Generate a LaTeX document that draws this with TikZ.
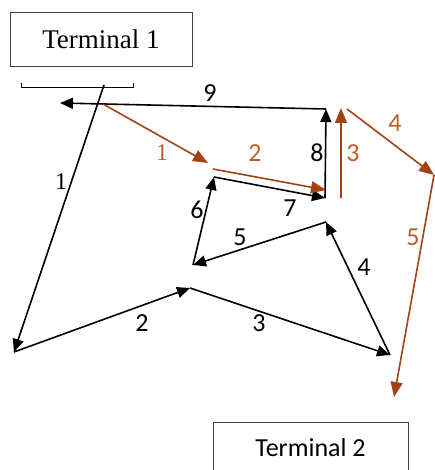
\documentclass[tikz,border=0pt]{standalone}
\usepackage{fontspec}
\setmainfont{Liberation Serif}
\newfontfamily\calib{Carlito}
\usetikzlibrary{arrows.meta}
\definecolor{brun}{RGB}{163,66,22}
\definecolor{brunlbl}{RGB}{186,94,46}
\tikzstyle{terminal}=[
	rectangle,
	draw=black!75,
	line width=0.9pt,
	minimum width=182,
	minimum height=54,
	font=\fontsize{27}{30}\selectfont]
\tikzstyle{ruta}=[
	draw=black,
	line width=1.6pt,
	-{Triangle[length=13pt,width=11pt]}]
\tikzstyle{rutab}=[
	ruta,
	draw=brun,
	-{Triangle[length=15pt,width=12pt]}]
\tikzstyle{num}=[
	inner sep=0pt,
	font=\calib\fontsize{26}{30}\selectfont]
\tikzstyle{numser}=[
	num,
	font=\fontsize{24}{28}\selectfont]

\begin{document}
\begin{tikzpicture}[x=1pt,y=-1pt]
	\path[use as bounding box,clip] (0,0) rectangle (435,470);
	% terminales
	\node[terminal] (term1) at (101,39) {Terminal 1};
	\node[terminal,font=\calib\fontsize{26}{30}\selectfont,minimum width=195,minimum height=52] (term2) at (310.5,448) {Terminal 2};
	\coordinate (brL) at (21,83);
	\coordinate (brR) at (133,83);
	\draw[line width=1pt] (brL) |- (brR |- 0,88) -- (brR);
	% puntos de la ruta negra
	\coordinate (a) at (104,85);
	\coordinate (b) at (14,352);
	\coordinate (c) at (190,288);
	\coordinate (d) at (390,355);
	\coordinate (e) at (326,222);
	\coordinate (f) at (193,265);
	\coordinate (g) at (214,177);
	\coordinate (h) at (325,198);
	\coordinate (i) at (326,109);
	\coordinate (j) at (60,103);
	% puntos de la ruta marron
	\coordinate (p1) at (103,104);
	\coordinate (p2) at (208,163);
	\coordinate (q1) at (213,169);
	\coordinate (q2) at (326,190);
	\coordinate (r1) at (341,198);
	\coordinate (r2) at (341,108);
	\coordinate (s1) at (347,109);
	\coordinate (s2) at (434,175);
	\coordinate (u) at (394,397);
	\draw[ruta] (a) -- (b);
	\draw[ruta] (b) -- (c);
	\draw[ruta] (c) -- (d);
	\draw[ruta] (d) -- (e);
	\draw[ruta] (e) -- (f);
	\draw[ruta] (f) -- (g);
	\draw[ruta] (g) -- (h);
	\draw[ruta] (h) -- (i);
	\draw[ruta] (i) -- (j);
	\draw[rutab] (p1) -- (p2);
	\draw[rutab] (q1) -- (q2);
	\draw[rutab] (r1) -- (r2);
	\draw[rutab] (s1) -- (s2);
	\draw[rutab] (s2) -- (u);
	% etiquetas
	\node[numser] (n1) at (61,182) {1};
	\node[num] (n2) at (142,323) {2};
	\node[num] (n3) at (259,323) {3};
	\node[num] (n4) at (364,267) {4};
	\node[num] (n5) at (240,237) {5};
	\node[num] (n6) at (197,210) {6};
	\node[num] (n7) at (290,208) {7};
	\node[num] (n8) at (317,153) {8};
	\node[num] (n9) at (210,93) {9};
	\node[numser,text=brunlbl] (m1) at (162,153) {1};
	\node[num,text=brunlbl] (m2) at (255,153) {2};
	\node[num,text=brunlbl] (m3) at (353,153) {3};
	\node[num,text=brunlbl] (m4) at (395,123) {4};
	\node[num,text=brunlbl] (m5) at (413,237) {5};
\end{tikzpicture}
\end{document}
